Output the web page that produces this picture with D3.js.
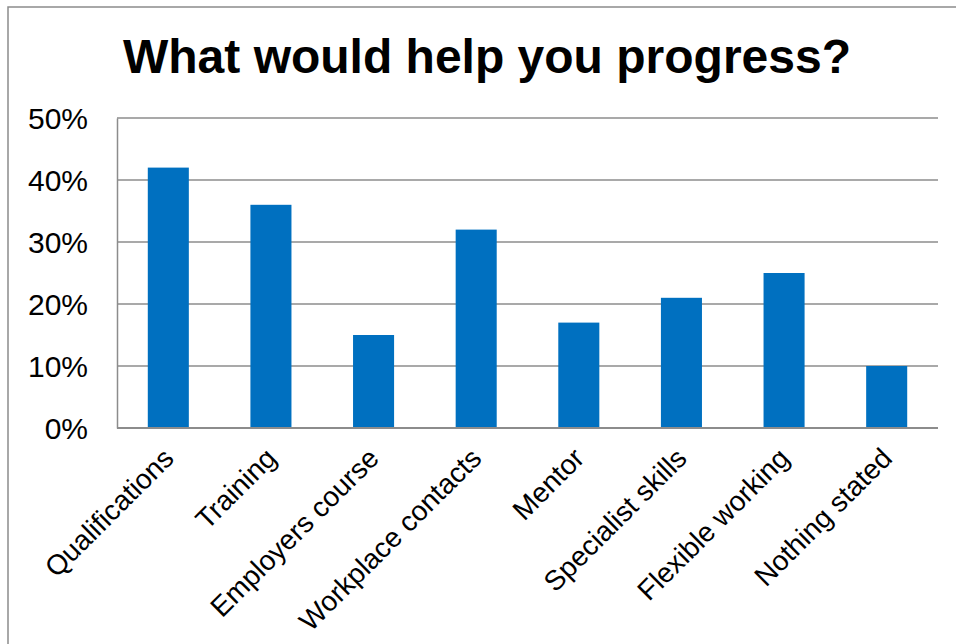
<!DOCTYPE html>
<html>
<head>
<meta charset="utf-8">
<script src="https://cdn.jsdelivr.net/npm/d3@7"></script>
<style>
  html, body { margin: 0; padding: 0; background: #fff; }
  svg { display: block; font-family: "Liberation Sans", Arial, sans-serif; }
</style>
</head>
<body>
<svg id="chart" width="956" height="644"></svg>
<script>
// Survey responses: share of respondents naming each support
const categories = ["Qualifications", "Training", "Employers course", "Workplace contacts",
                    "Mentor", "Specialist skills", "Flexible working", "Nothing stated"];
const shares = [0.42, 0.36, 0.15, 0.32, 0.17, 0.21, 0.25, 0.10];
const yTicks = [0, 0.1, 0.2, 0.3, 0.4, 0.5];
const titleText = "What would help you progress?";

const svg = d3.select("#chart");
const W = 956, H = 644;
const plot = { left: 117, right: 938, top: 118, bottom: 428 };

// chart frame
svg.append("path")
  .attr("d", `M8,${H + 2} L8,7 L${W + 2},7`)
  .attr("fill", "none")
  .attr("stroke", "#8c8c8c")
  .attr("stroke-width", 1.5);

svg.append("text")
  .attr("x", 487)
  .attr("y", 73)
  .attr("text-anchor", "middle")
  .attr("font-size", 48)
  .attr("font-weight", "bold")
  .attr("fill", "#000")
  .text(titleText);

const x = d3.scaleBand()
  .domain(categories)
  .range([plot.left, plot.right])
  .paddingInner(0.6)
  .paddingOuter(0.3);

const y = d3.scaleLinear()
  .domain([0, 0.5])
  .range([plot.bottom, plot.top]);

// horizontal gridlines
svg.append("g")
  .selectAll("line")
  .data(yTicks.filter(d => d > 0))
  .join("line")
  .attr("x1", plot.left)
  .attr("x2", plot.right)
  .attr("y1", d => y(d))
  .attr("y2", d => y(d))
  .attr("stroke", "#8c8c8c")
  .attr("stroke-width", 1.5);

// bars
svg.append("g")
  .selectAll("rect")
  .data(categories)
  .join("rect")
  .attr("x", d => x(d))
  .attr("width", x.bandwidth())
  .attr("y", (d, i) => y(shares[i]))
  .attr("height", (d, i) => y(0) - y(shares[i]))
  .attr("fill", "#0070c0");

// y axis
const yAxis = svg.append("g")
  .attr("transform", `translate(${plot.left},0)`)
  .call(d3.axisLeft(y).tickValues(yTicks).tickFormat(d3.format(".0%")).tickSize(0).tickPadding(29));
yAxis.select(".domain").attr("stroke", "#8c8c8c").attr("stroke-width", 1.5);
yAxis.selectAll("text")
  .attr("font-size", 30)
  .attr("font-family", "Liberation Sans, Arial, sans-serif")
  .attr("fill", "#000")
  .attr("dy", "0.35em");

// x axis
const xAxis = svg.append("g")
  .attr("transform", `translate(0,${plot.bottom})`)
  .call(d3.axisBottom(x).tickSize(0).tickSizeOuter(0));
xAxis.select(".domain")
  .attr("d", `M${plot.left},0H${plot.right}`)
  .attr("stroke", "#8c8c8c").attr("stroke-width", 2);
xAxis.selectAll("text")
  .attr("font-size", 28)
  .attr("font-family", "Liberation Sans, Arial, sans-serif")
  .attr("fill", "#000")
  .attr("text-anchor", "end")
  .attr("dy", 0)
  .attr("y", 0)
  .attr("transform", "translate(7,32) rotate(-45)");
</script>
</body>
</html>
